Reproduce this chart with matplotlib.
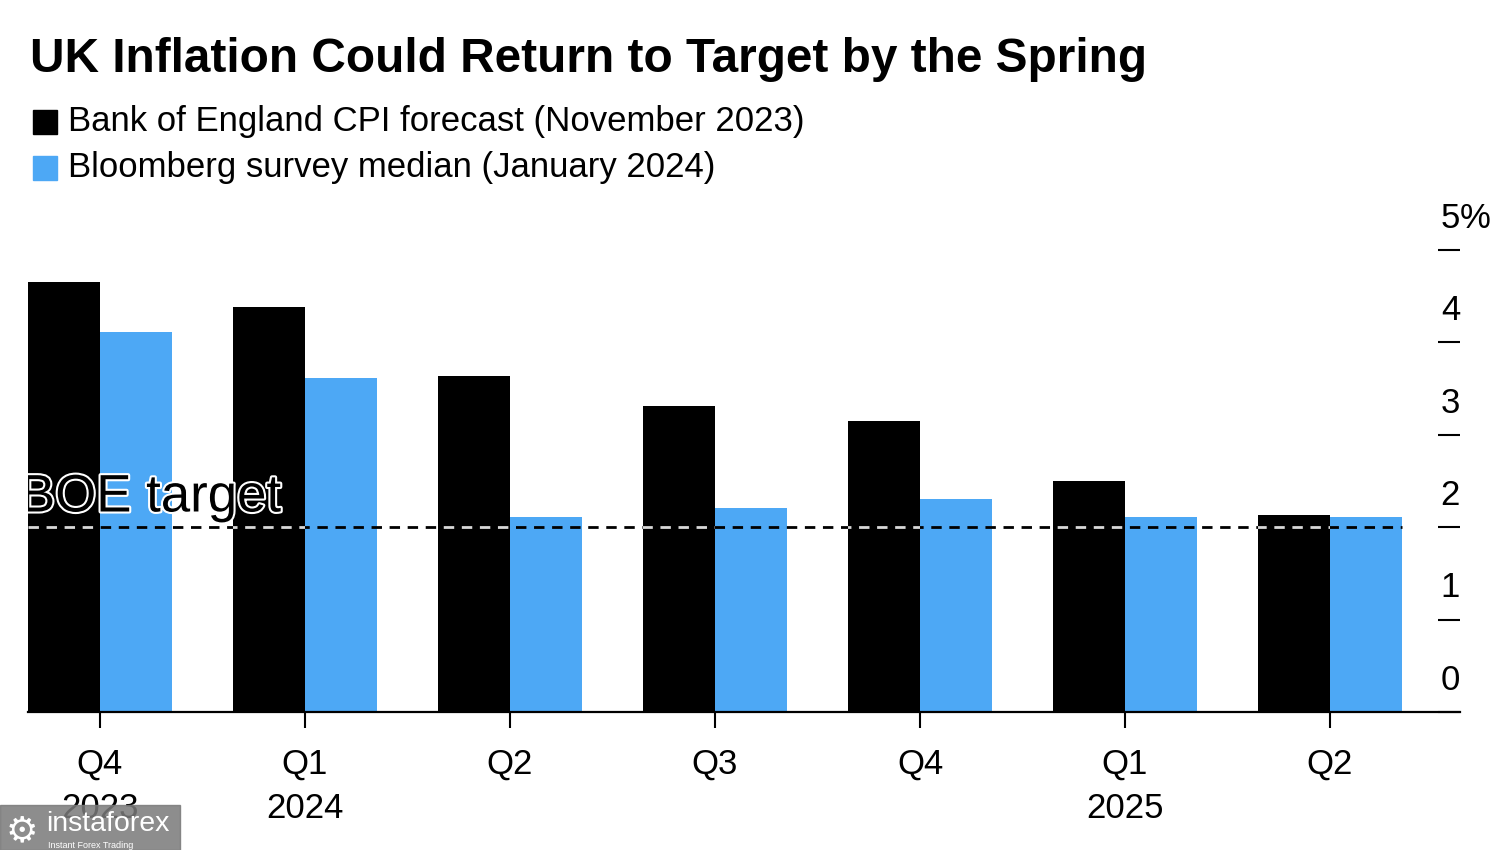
import matplotlib
matplotlib.use("Agg")
import matplotlib.pyplot as plt
import matplotlib.patheffects as pe
import matplotlib.transforms as mtransforms
from matplotlib.patches import Rectangle

# ---------------- data ----------------
categories = ["Q4\n2023", "Q1\n2024", "Q2", "Q3", "Q4", "Q1\n2025", "Q2"]
boe_forecast = [4.65, 4.38, 3.64, 3.31, 3.15, 2.50, 2.13]
bloomberg_median = [4.11, 3.61, 2.11, 2.21, 2.30, 2.11, 2.11]
boe_target = 2.0
y_ticks = [0, 1, 2, 3, 4, 5]
y_tick_labels = ["0", "1", "2", "3", "4", "5"]
series_names = ["Bank of England CPI forecast (November 2023)",
                "Bloomberg survey median (January 2024)"]
title = "UK Inflation Could Return to Target by the Spring"
target_label = "BOE target"

BLACK = "#000000"
BLUE = "#4da8f5"

plt.rcParams["font.family"] = ["Liberation Sans", "DejaVu Sans"]
plt.rcParams["lines.scale_dashes"] = False

W, H = 1500, 850
fig = plt.figure(figsize=(W / 100, H / 100), dpi=100)
fig.patch.set_facecolor("white")


def fx(px):
    return px / W


def fy(py):
    return 1 - py / H


ax = fig.add_axes([fx(28), fy(712), fx(1460) - fx(28), fy(250) - fy(712)])
bw = 0.351
x = list(range(len(categories)))
bars_boe = ax.bar([i - bw / 2 for i in x], boe_forecast, width=bw, color=BLACK, zorder=2)
bars_bbg = ax.bar([i + bw / 2 for i in x], bloomberg_median, width=bw, color=BLUE, zorder=2)

ax.set_xlim(-bw, 6.634)
ax.set_ylim(0, 5)

# target line
x0, x1 = -bw, len(categories) - 1 + bw
ax.plot([x0, x1], [boe_target, boe_target], color="black", lw=2.0,
        linestyle=(0, (7.5, 5.5)), zorder=3, solid_capstyle="butt")
for r in bars_boe:
    ln, = ax.plot([x0, x1], [boe_target, boe_target], color="#d8d8d8", lw=2.0,
                  linestyle=(0, (7.5, 5.5)), zorder=3.1)
    ln.set_clip_path(r)

ax.text(-0.39, 2.17, target_label, fontsize=38, color="black", zorder=4,
        clip_on=True,
        path_effects=[pe.withStroke(linewidth=3, foreground="white")])

for s in ["top", "left", "right"]:
    ax.spines[s].set_visible(False)
ax.spines["bottom"].set_linewidth(1.6)
ax.spines["bottom"].set_zorder(5)

ax.set_xticks(x)
ax.set_xticklabels(categories, linespacing=1.45)
ax.tick_params(axis="x", direction="out", length=11.5, width=1.5,
               labelsize=25, pad=14)

ax.yaxis.set_ticks_position("right")
ax.set_yticks(y_ticks)
ax.tick_params(axis="y", direction="in", length=15.8, width=1.5,
               labelright=False, labelleft=False)

trans = mtransforms.blended_transform_factory(ax.transAxes, ax.transData)
trans = mtransforms.offset_copy(trans, fig=fig, y=16, units="points")
for v, lab in zip(y_ticks, y_tick_labels):
    ax.text(1.0, v, lab, transform=trans, ha="right", va="baseline",
            fontsize=25, clip_on=False)
ax.text(1.0, y_ticks[-1], "%", transform=trans, ha="left", va="baseline",
        fontsize=25, clip_on=False)

# title
fig.text(fx(30), fy(72), title, fontsize=34.4, fontweight="bold", va="baseline")

# legend
fig.patches.append(Rectangle((fx(33), fy(134)), fx(24), fy(110) - fy(134),
                             transform=fig.transFigure, color=BLACK))
fig.patches.append(Rectangle((fx(33), fy(180)), fx(24), fy(156) - fy(180),
                             transform=fig.transFigure, color=BLUE))
fig.text(fx(68), fy(131), series_names[0], fontsize=25, va="baseline")
fig.text(fx(68), fy(177), series_names[1], fontsize=25, va="baseline")

# watermark
fig.patches.append(Rectangle((0, fy(850)), fx(180), fy(805) - fy(850),
                             transform=fig.transFigure, color="#7a7a7a",
                             alpha=0.86, zorder=10))
fig.text(fx(6), fy(841), "\u2699", fontsize=26, color="white", zorder=11,
         family="DejaVu Sans", va="baseline")
fig.text(fx(46), fy(831), "instaforex", fontsize=20.5, color="white", zorder=11,
         va="baseline")
fig.text(fx(48), fy(848), "Instant Forex Trading", fontsize=6.5, color="white",
         zorder=11, va="baseline")

fig.savefig("out.png", dpi=100)
